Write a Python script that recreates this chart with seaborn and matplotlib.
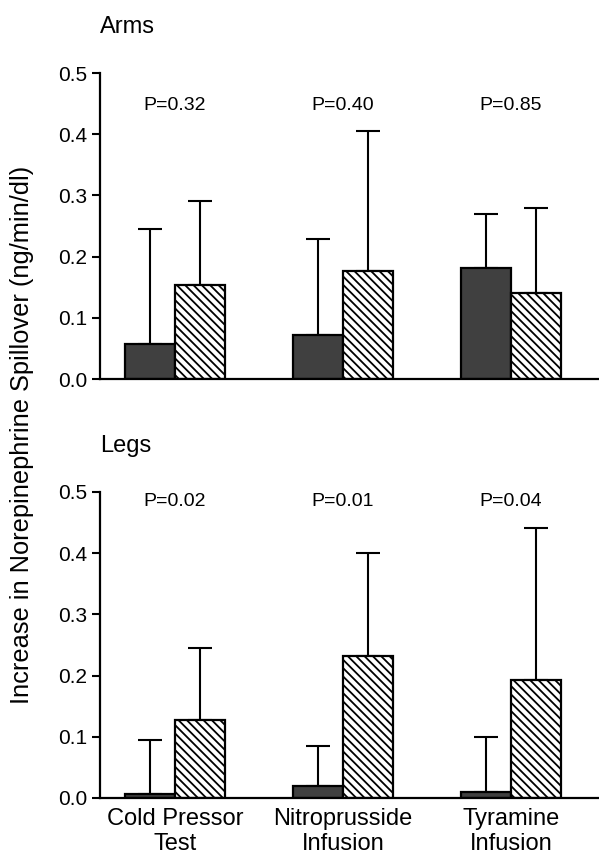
import numpy as np
import pandas as pd
import matplotlib.pyplot as plt
import seaborn as sns

categories = ['Cold Pressor\nTest', 'Nitroprusside\nInfusion', 'Tyramine\nInfusion']
groups = ['solid', 'hatched']

arms_solid = [0.057, 0.072, 0.182]
arms_hatched = [0.154, 0.177, 0.141]
arms_solid_err = [0.188, 0.157, 0.087]
arms_hatched_err = [0.137, 0.228, 0.138]
arms_p = ['P=0.32', 'P=0.40', 'P=0.85']

legs_solid = [0.006, 0.019, 0.009]
legs_hatched = [0.127, 0.232, 0.193]
legs_solid_err = [0.089, 0.066, 0.091]
legs_hatched_err = [0.118, 0.168, 0.248]
legs_p = ['P=0.02', 'P=0.01', 'P=0.04']

yticks = [0.0, 0.1, 0.2, 0.3, 0.4, 0.5]

sns.set_style('ticks')
plt.rcParams['font.family'] = ['Liberation Sans', 'DejaVu Sans']
plt.rcParams['hatch.linewidth'] = 1.3
for k in ['text.color', 'axes.labelcolor', 'xtick.color', 'ytick.color',
          'axes.edgecolor']:
    plt.rcParams[k] = 'black'


def draw_panel(ax, solid, hatched, solid_err, hatched_err, pvals, p_y, title,
               show_x):
    df = pd.DataFrame({
        'cond': categories * 2,
        'group': [groups[0]] * 3 + [groups[1]] * 3,
        'value': solid + hatched,
    })
    sns.barplot(data=df, x='cond', y='value', hue='group', order=categories,
                hue_order=groups, palette={'solid': '#404040', 'hatched': 'white'},
                width=0.6, edgecolor='black', linewidth=1.6, errorbar=None,
                legend=False, ax=ax, zorder=2)
    for bar in ax.containers[1]:
        bar.set_hatch('\\\\\\\\')
    for cont, errs in zip(ax.containers, [solid_err, hatched_err]):
        xs = [b.get_x() + b.get_width() / 2 for b in cont]
        ys = [b.get_height() for b in cont]
        ax.errorbar(xs, ys, yerr=[np.zeros(len(errs)), errs], fmt='none',
                    ecolor='black', elinewidth=1.5, capsize=8.5, capthick=1.5,
                    zorder=1)
    for i, p in enumerate(pvals):
        ax.text(i, p_y, p, ha='center', va='center', fontsize=14)
    ax.text(0, 1.13, title, transform=ax.transAxes, ha='left', va='baseline',
            fontsize=17)
    ax.set_ylim(0, 0.5)
    ax.set_xlim(-0.446, 2.524)
    ax.set_yticks(yticks)
    ax.set_yticklabels([f'{t:.1f}' for t in yticks], fontsize=15)
    ax.set_xlabel('')
    ax.set_ylabel('')
    ax.tick_params(axis='y', length=6, width=1.5, pad=3)
    ax.tick_params(axis='x', length=0, pad=7, labelsize=17)
    if not show_x:
        ax.set_xticklabels([])
    else:
        for lab in ax.get_xticklabels():
            lab.set_linespacing(1.2)
    sns.despine(ax=ax)
    for s in ['left', 'bottom']:
        ax.spines[s].set_linewidth(1.6)


fig = plt.figure(figsize=(5.99, 8.55), dpi=100)
ax1 = fig.add_axes([0.167, 0.5567, 0.833, 0.3579])
ax2 = fig.add_axes([0.167, 0.0667, 0.833, 0.3579])

draw_panel(ax1, arms_solid, arms_hatched, arms_solid_err, arms_hatched_err,
           arms_p, 0.447, 'Arms', False)
draw_panel(ax2, legs_solid, legs_hatched, legs_solid_err, legs_hatched_err,
           legs_p, 0.484, 'Legs', True)

fig.text(0.036, 0.491, 'Increase in Norepinephrine Spillover (ng/min/dl)',
         rotation=90, ha='center', va='center', fontsize=18.3)

fig.savefig('out.png', dpi=100)
